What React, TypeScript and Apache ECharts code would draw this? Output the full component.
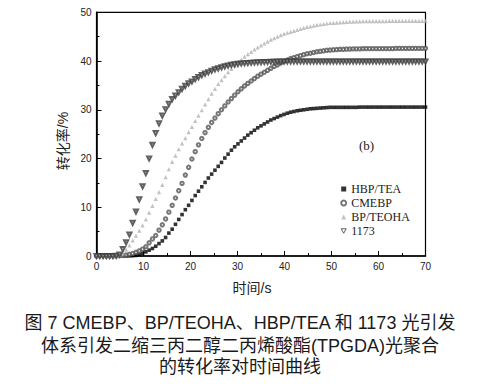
import React, { useEffect, useRef } from "react";
import * as echarts from "echarts";

const times = [0,0.7,1.4,2.1,2.8,3.5,4.2,4.9,5.6,6.3,7,7.7,8.4,9.1,9.8,10.5,11.2,11.9,12.6,13.3,14,14.7,15.4,16.1,16.8,17.5,18.2,18.9,19.6,20.3,21,21.7,22.4,23.1,23.8,24.5,25.2,25.9,26.6,27.3,28,28.7,29.4,30.1,30.8,31.5,32.2,32.9,33.6,34.3,35,35.7,36.4,37.1,37.8,38.5,39.2,39.9,40.6,41.3,42,42.7,43.4,44.1,44.8,45.5,46.2,46.9,47.6,48.3,49,49.7,50.4,51.1,51.8,52.5,53.2,53.9,54.6,55.3,56,56.7,57.4,58.1,58.8,59.5,60.2,60.9,61.6,62.3,63,63.7,64.4,65.1,65.8,66.5,67.2,67.9,68.6,69.3,70];

const hbpTea = [0,0,0,0,0,0,0,0,0,0,
  0.02,0.05,0.12,0.3,0.55,0.85,1.2,1.55,2.0,2.55,
  3.1,3.8,4.7,5.5,6.5,7.5,8.5,9.5,10.4,11.4,
  12.4,13.3,14.2,15.1,16.0,16.8,17.6,18.4,19.2,20.1,
  20.9,21.7,22.4,23.0,23.6,24.2,24.8,25.3,25.8,26.3,
  26.7,27.1,27.5,27.9,28.2,28.5,28.8,29.05,29.3,29.5,
  29.65,29.8,29.9,30.0,30.1,30.2,30.25,30.3,30.35,30.4,
  30.45,30.5,30.5,30.5,30.5,30.5,30.5,30.5,30.5,30.5,
  30.55,30.55,30.55,30.55,30.55,30.55,30.55,30.55,30.55,30.55,
  30.55,30.55,30.55,30.55,30.55,30.55,30.55,30.55,30.55,30.55,30.55];

const cmebp = [0,0,0,0,0,0,0.02,0.05,0.1,0.2,
  0.35,0.5,0.75,1.05,1.4,1.9,2.7,3.5,4.2,5.3,
  6.4,7.6,9.0,10.4,11.9,13.4,14.9,16.6,18.2,19.9,
  21.4,22.8,24.1,25.3,26.4,27.4,28.3,29.2,30.0,30.8,
  31.6,32.3,33.0,33.7,34.3,34.9,35.4,35.9,36.4,36.9,
  37.3,37.7,38.1,38.5,38.9,39.2,39.6,39.9,40.2,40.5,
  40.7,40.9,41.1,41.3,41.5,41.6,41.75,41.9,42.0,42.1,
  42.2,42.25,42.3,42.35,42.4,42.4,42.45,42.45,42.5,42.5,
  42.5,42.55,42.55,42.55,42.55,42.55,42.55,42.55,42.55,42.55,
  42.55,42.6,42.6,42.6,42.6,42.6,42.6,42.6,42.6,42.6,42.6];

const bpTeoha = [0,0,0,0,0,0,0,0.1,0.6,1.3,
  2.2,3.2,4.2,5.2,6.3,7.5,8.9,10.3,11.7,13.1,
  14.6,16.2,17.8,19.3,20.6,21.9,23.1,24.2,25.4,26.5,
  27.7,28.8,29.9,31.1,32.2,33.3,34.3,35.3,36.1,36.9,
  37.7,38.4,39.1,39.7,40.3,40.9,41.4,41.9,42.4,42.8,
  43.2,43.6,44.0,44.4,44.7,45.0,45.3,45.6,45.8,46.0,
  46.2,46.4,46.6,46.8,47.0,47.1,47.25,47.4,47.5,47.6,
  47.7,47.8,47.85,47.9,47.95,48.0,48.05,48.1,48.1,48.15,
  48.15,48.2,48.2,48.2,48.2,48.2,48.2,48.2,48.2,48.25,
  48.25,48.25,48.25,48.25,48.25,48.25,48.25,48.25,48.25,48.25,48.25];

const s1173 = [0,0,0,0,0,0,0.05,0.3,1.4,2.8,
  4.4,6.8,9.1,11.6,14.3,17.0,20.0,22.8,25.2,27.2,
  28.8,30.1,31.2,32.2,32.9,33.6,34.3,34.9,35.4,35.8,
  36.3,36.7,37.1,37.4,37.7,38.0,38.3,38.5,38.7,38.9,
  39.05,39.2,39.3,39.4,39.5,39.55,39.6,39.65,39.7,39.75,
  39.75,39.8,39.8,39.85,39.85,39.9,39.9,39.9,39.9,39.9,
  39.9,39.9,39.9,39.9,39.9,39.9,39.9,39.9,39.9,39.9,
  39.9,39.9,39.9,39.9,39.9,39.9,39.9,39.9,39.9,39.9,
  39.9,39.9,39.9,39.9,39.9,39.9,39.9,39.9,39.9,39.9,
  39.9,39.9,39.9,39.9,39.9,39.9,39.9,39.9,39.9,39.9,39.9];

const seriesNames = ["HBP/TEA", "CMEBP", "BP/TEOHA", "1173"];
const xTitle = "时间/s";
const yTitle = "转化率/%";
const panelTag = "(b)";
const captionLines = [
  "图 7 CMEBP、BP/TEOHA、HBP/TEA 和 1173 光引发",
  "体系引发二缩三丙二醇二丙烯酸酯(TPGDA)光聚合",
  "的转化率对时间曲线",
];

const zip = (vals: number[]) => times.map((t, i) => [t, vals[i]]);

const SANS = "'Liberation Sans', Arial, 'Noto Sans CJK SC', sans-serif";
const SERIF = "'Liberation Serif', 'Times New Roman', serif";

const C_HBP = "#000";
const C_CME = "#555";
const C_BPT = "#b3b3b3";
const C_1173 = "#3a3a3a";

export default function App() {
  const ref = useRef<HTMLDivElement>(null);
  useEffect(() => {
    if (!ref.current) return;
    const chart = echarts.init(ref.current, undefined, { renderer: "svg" });
    chart.setOption({
      animation: false,
      backgroundColor: "#fff",
      grid: {
        left: 96.5,
        right: 54.5,
        top: 12.3,
        bottom: 135,
        show: true,
        borderColor: "#000",
        borderWidth: 1.2,
        backgroundColor: "transparent",
      },
      xAxis: {
        type: "value",
        min: 0,
        max: 70,
        interval: 10,
        axisLine: { show: true, onZero: false, lineStyle: { color: "#000", width: 1.6 } },
        axisTick: { show: true, inside: true, length: 5, lineStyle: { color: "#000", width: 1 } },
        minorTick: { show: true, splitNumber: 2, length: 3, lineStyle: { color: "#000", width: 1 } },
        splitLine: { show: false },
        axisLabel: { color: "#222", fontSize: 10, fontFamily: SANS, margin: 5 },
      },
      yAxis: {
        type: "value",
        min: 0,
        max: 50,
        interval: 10,
        axisLine: { show: true, onZero: false, lineStyle: { color: "#000", width: 1.6 } },
        axisTick: { show: true, inside: true, length: 5, lineStyle: { color: "#000", width: 1 } },
        minorTick: { show: true, splitNumber: 2, length: 3, lineStyle: { color: "#000", width: 1 } },
        splitLine: { show: false },
        axisLabel: { color: "#222", fontSize: 10, fontFamily: SANS, margin: 5 },
      },
      legend: {
        orient: "vertical",
        left: 340.2,
        top: 183,
        padding: 0,
        itemWidth: 5,
        itemHeight: 5,
        itemGap: 2,
        itemTextGap: 13.8,
        data: [
          { name: seriesNames[0], icon: "rect" },
          { name: seriesNames[1], icon: "emptyCircle" },
          { name: seriesNames[2], icon: "triangle" },
          {
            name: seriesNames[3],
            icon: "path://M0,0L10,0L5,9Z",
            itemStyle: { color: "#fff", borderColor: C_1173, borderWidth: 1 },
          },
        ],
        textStyle: { fontFamily: SERIF, fontSize: 12, color: "#222", lineHeight: 12 },
      },
      series: [
        {
          name: seriesNames[0],
          type: "scatter",
          symbol: "rect",
          symbolSize: 3.6,
          itemStyle: { color: C_HBP },
          data: zip(hbpTea),
        },
        {
          name: seriesNames[1],
          type: "scatter",
          symbol: "emptyCircle",
          symbolSize: 3.4,
          itemStyle: { color: C_CME, borderWidth: 0.9 },
          data: zip(cmebp),
        },
        {
          name: seriesNames[2],
          type: "scatter",
          symbol: "triangle",
          symbolSize: 4.2,
          itemStyle: { color: C_BPT },
          data: zip(bpTeoha),
        },
        {
          name: seriesNames[3],
          type: "scatter",
          symbol: "emptyTriangle",
          symbolSize: 4.2,
          symbolRotate: 180,
          itemStyle: { color: C_1173, borderWidth: 0.9 },
          data: zip(s1173),
        },
      ],
      graphic: [
        {
          type: "text",
          x: 359,
          y: 145,
          style: { text: panelTag, font: `13px ${SERIF}`, fill: "#222", align: "left", verticalAlign: "middle" },
        },
        {
          type: "text",
          x: 252,
          y: 288,
          style: { text: xTitle, font: `14px ${SANS}`, fill: "#222", align: "center", verticalAlign: "middle" },
        },
        {
          type: "text",
          x: 63,
          y: 141,
          rotation: Math.PI / 2,
          style: { text: yTitle, font: `14px ${SANS}`, fill: "#222", align: "center", verticalAlign: "middle" },
        },
        ...captionLines.map((line, i) => ({
          type: "text",
          x: 240,
          y: [323, 345.5, 367][i],
          style: { text: line, font: `18px ${SANS}`, fill: "#1a1a1a", align: "center", verticalAlign: "middle" },
        })),
      ],
    });
    return () => chart.dispose();
  }, []);
  return (
    <div
      ref={ref}
      style={{ position: "fixed", left: 0, top: 0, width: 480, height: 391, background: "#fff" }}
    />
  );
}
